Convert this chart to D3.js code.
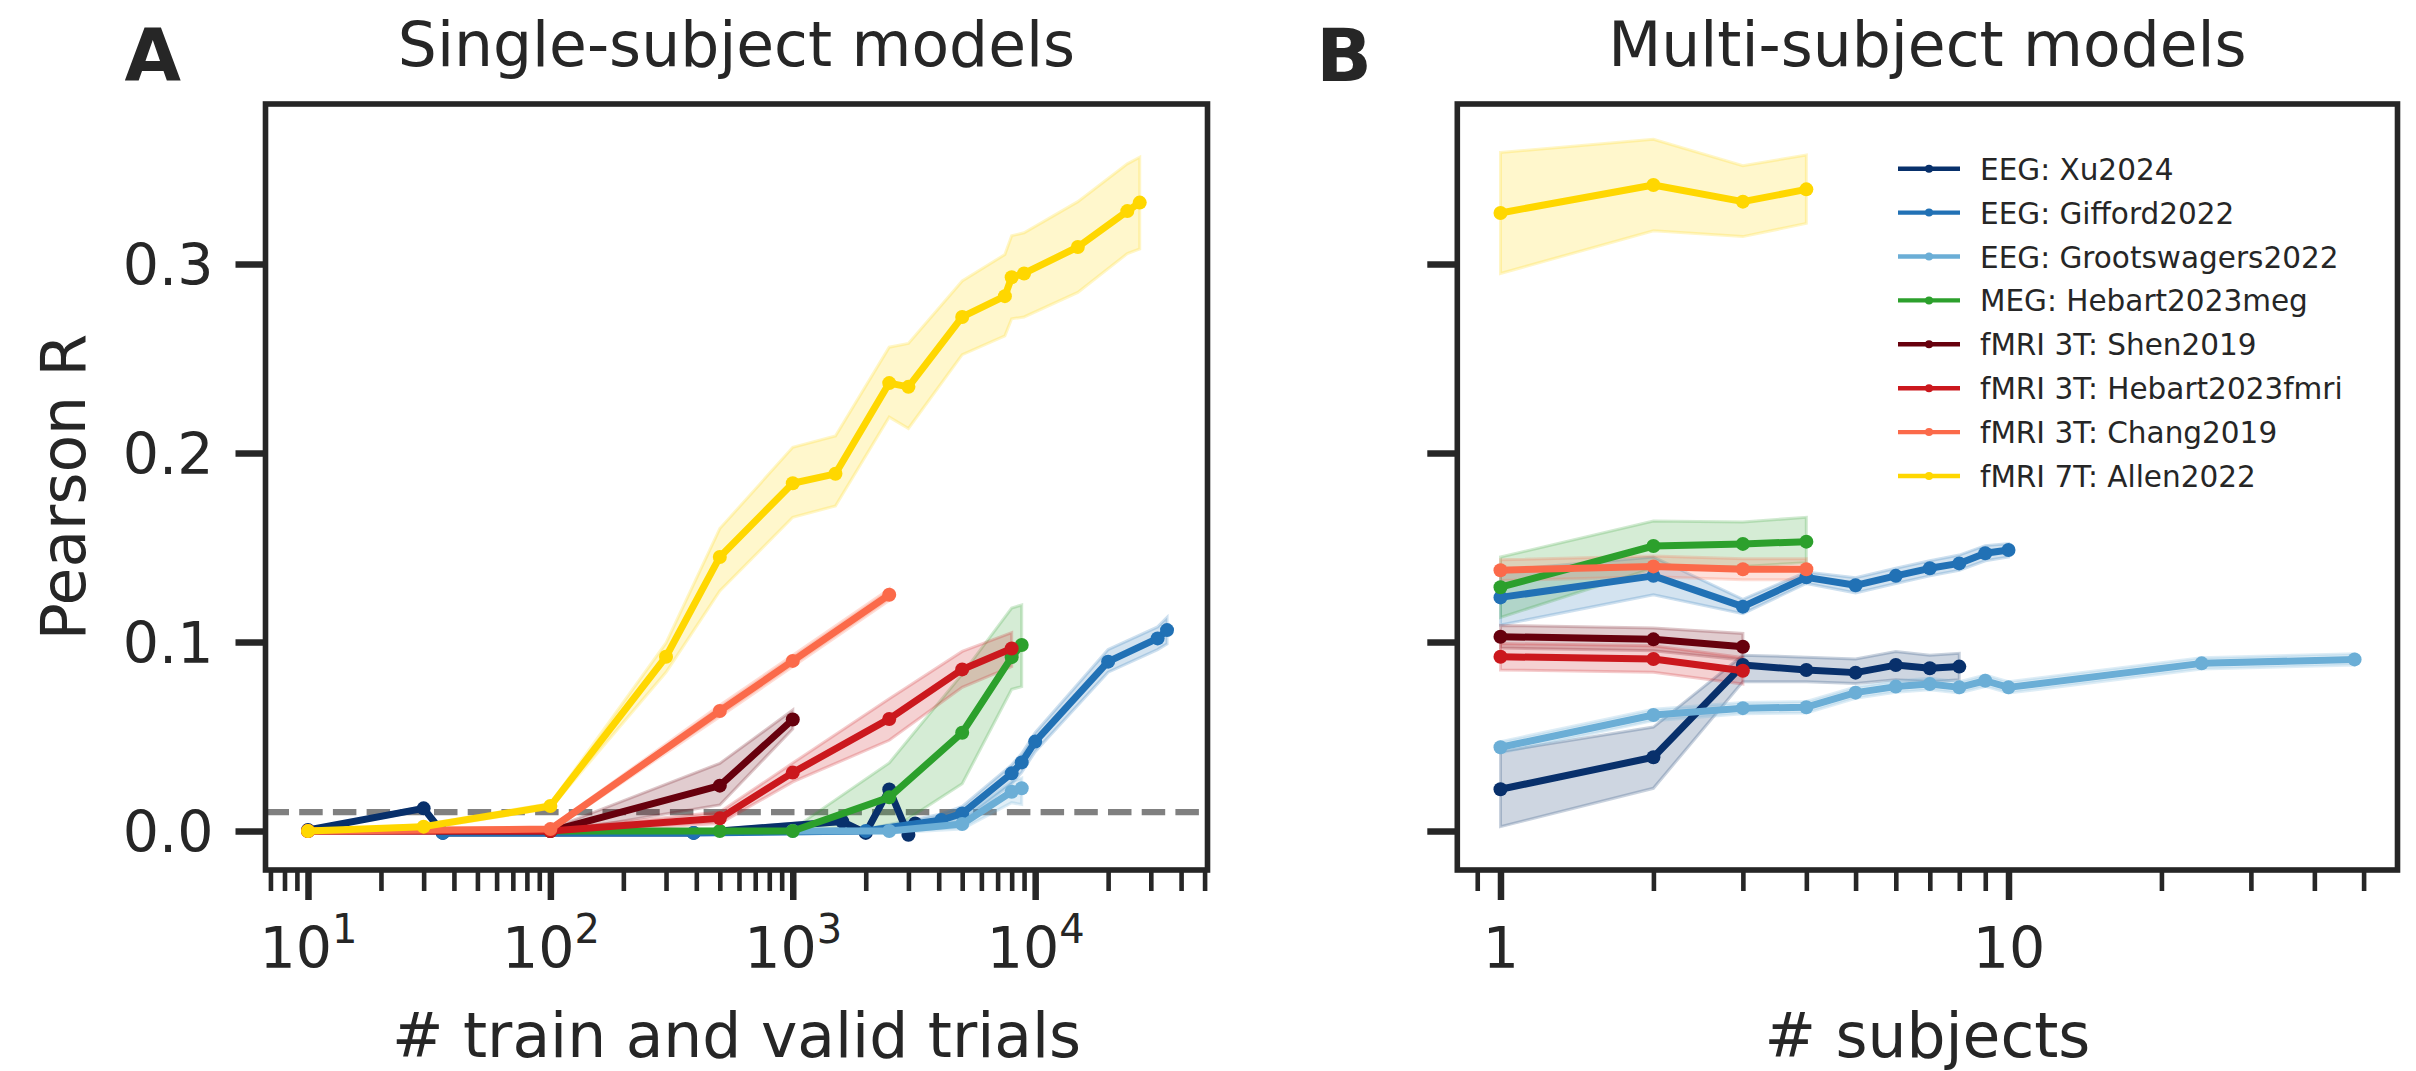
<!DOCTYPE html>
<html>
<head>
<meta charset="utf-8">
<script src="https://cdn.jsdelivr.net/npm/d3@7"></script>
<style>
  body { margin: 0; background: #fff; }
  svg text { font-family: 'DejaVu Sans', sans-serif; fill: #262626; }
</style>
</head>
<body>
<script>
// ---- data ----

var seriesNames = ['EEG: Xu2024', 'EEG: Gifford2022', 'EEG: Grootswagers2022', 'MEG: Hebart2023meg',
  'fMRI 3T: Shen2019', 'fMRI 3T: Hebart2023fmri', 'fMRI 3T: Chang2019', 'fMRI 7T: Allen2022'];

// panel A: # train and valid trials -> pearson r (mean, band low, band high)
var xuTrials = [10, 30, 36, 390, 1600, 2000, 2500, 3000, 3200];
var xuR = [0.0005, 0.012, -0.001, -0.001, 0.005, -0.001, 0.022, -0.002, 0.004];
var xuLo = [0.0, 0.011, -0.002, -0.002, 0.004, -0.002, 0.020, -0.003, 0.003];
var xuHi = [0.001, 0.013, 0.0, 0.0, 0.006, 0.0, 0.024, -0.001, 0.005];

var giffordTrials = [36, 390, 2000, 4100, 5000, 8000, 8800, 10000, 20000, 32000, 35000];
var giffordR = [-0.001, -0.001, 0.0, 0.0058, 0.0093, 0.0305, 0.0363, 0.0473, 0.0896, 0.1019, 0.1063];
var giffordLo = [-0.002, -0.002, -0.001, 0.003, 0.005, 0.025, 0.031, 0.042, 0.084, 0.096, 0.099];
var giffordHi = [0.0, 0.0, 0.001, 0.009, 0.013, 0.035, 0.041, 0.052, 0.096, 0.108, 0.113];

var grootTrials = [1000, 2500, 5000, 8000, 8800];
var grootR = [0.0, 0.0, 0.0037, 0.0208, 0.0226];
var grootLo = [-0.001, -0.001, 0.001, 0.015, 0.014];
var grootHi = [0.001, 0.001, 0.007, 0.026, 0.028];

var megTrials = [100, 500, 1000, 2500, 5000, 8000, 8800];
var megR = [0.0, 0.0, 0.0, 0.0178, 0.052, 0.092, 0.0984];
var megLo = [0.0, -0.001, -0.001, 0.0, 0.025, 0.075, 0.0764];
var megHi = [0.0, 0.001, 0.001, 0.036, 0.083, 0.118, 0.1196];

var shenTrials = [10, 100, 500, 1000];
var shenR = [0.0, 0.0, 0.024, 0.059];
var shenLo = [0.0, -0.001, 0.0138, 0.054];
var shenHi = [0.0, 0.001, 0.0358, 0.064];

var hebartTrials = [10, 100, 500, 1000, 2500, 5000, 8000];
var hebartR = [0.0, 0.0, 0.0067, 0.0309, 0.0593, 0.0855, 0.0966];
var hebartLo = [0.0, -0.001, 0.004, 0.026, 0.048, 0.076, 0.087];
var hebartHi = [0.0, 0.001, 0.010, 0.036, 0.070, 0.095, 0.105];

var changTrials = [10, 100, 500, 1000, 2500];
var changR = [0.0, 0.001, 0.0635, 0.090, 0.125];
var changLo = [-0.001, 0.0, 0.0605, 0.087, 0.122];
var changHi = [0.001, 0.002, 0.0665, 0.093, 0.128];

var allenTrials = [10, 30, 100, 300, 500, 1000, 1500, 2500, 3000, 5000, 7500, 8000, 9000, 15000, 24000, 27000];
var allenR = [0.0, 0.0023, 0.0132, 0.0922, 0.145, 0.184, 0.189, 0.237, 0.235, 0.272, 0.283, 0.293, 0.295, 0.309, 0.328, 0.3325];
var allenLo = [0.0, 0.001, 0.012, 0.084, 0.127, 0.166, 0.172, 0.219, 0.213, 0.252, 0.262, 0.271, 0.272, 0.285, 0.3055, 0.308];
var allenHi = [0.0, 0.0035, 0.0145, 0.0995, 0.160, 0.203, 0.209, 0.256, 0.258, 0.291, 0.305, 0.315, 0.3165, 0.333, 0.353, 0.3565];

// panel B: # subjects -> pearson r
var xuSubj = [1, 2, 3, 4, 5, 6, 7, 8];
var xuSubjR = [0.0221, 0.039, 0.0878, 0.0852, 0.0838, 0.0878, 0.0861, 0.087];
var xuSubjLo = [0.0023, 0.0226, 0.079, 0.079, 0.078, 0.080, 0.079, 0.080];
var xuSubjHi = [0.042, 0.055, 0.093, 0.092, 0.091, 0.095, 0.093, 0.094];

var giffordSubj = [1, 2, 3, 4, 5, 6, 7, 8, 9, 10];
var giffordSubjR = [0.1236, 0.135, 0.1187, 0.1342, 0.130, 0.135, 0.139, 0.1416, 0.147, 0.1487];
var giffordSubjLo = [0.109, 0.125, 0.115, 0.131, 0.126, 0.131, 0.135, 0.138, 0.143, 0.145];
var giffordSubjHi = [0.138, 0.145, 0.1226, 0.137, 0.134, 0.139, 0.143, 0.146, 0.151, 0.152];

var grootSubj = [1, 2, 3, 4, 5, 6, 7, 8, 9, 10, 24, 48];
var grootSubjR = [0.0443, 0.0614, 0.065, 0.0655, 0.0732, 0.0764, 0.0778, 0.076, 0.0795, 0.076, 0.0887, 0.0908];
var grootSubjLo = [0.0413, 0.0584, 0.062, 0.0625, 0.0702, 0.0734, 0.0748, 0.073, 0.0765, 0.073, 0.0857, 0.0878];
var grootSubjHi = [0.0473, 0.0644, 0.068, 0.0685, 0.0762, 0.0794, 0.0808, 0.079, 0.0825, 0.079, 0.0917, 0.0938];

var megSubj = [1, 2, 3, 4];
var megSubjR = [0.129, 0.1508, 0.1519, 0.1531];
var megSubjLo = [0.113, 0.139, 0.140, 0.142];
var megSubjHi = [0.145, 0.164, 0.1635, 0.166];

var shenSubj = [1, 2, 3];
var shenSubjR = [0.1028, 0.1014, 0.0975];
var shenSubjLo = [0.0968, 0.0954, 0.0905];
var shenSubjHi = [0.1088, 0.1074, 0.1045];

var hebartSubj = [1, 2, 3];
var hebartSubjR = [0.0922, 0.091, 0.0848];
var hebartSubjLo = [0.0852, 0.084, 0.0778];
var hebartSubjHi = [0.0992, 0.098, 0.0918];

var changSubj = [1, 2, 3, 4];
var changSubjR = [0.138, 0.140, 0.1385, 0.1385];
var changSubjLo = [0.1325, 0.1345, 0.133, 0.133];
var changSubjHi = [0.1435, 0.1455, 0.144, 0.144];

var allenSubj = [1, 2, 3, 4];
var allenSubjR = [0.327, 0.3418, 0.333, 0.3395];
var allenSubjLo = [0.295, 0.3176, 0.3145, 0.3215];
var allenSubjHi = [0.359, 0.366, 0.352, 0.3577];

// ticks
var yTicks = [0.0, 0.1, 0.2, 0.3];
var trialMajor = [10, 100, 1000, 10000];
var trialMinor = [7, 8, 9, 20, 30, 40, 50, 60, 70, 80, 90, 200, 300, 400, 500, 600, 700, 800, 900,
  2000, 3000, 4000, 5000, 6000, 7000, 8000, 9000, 20000, 30000, 40000, 50000];
var subjMajor = [1, 10];
var subjMinor = [0.9, 2, 3, 4, 5, 6, 7, 8, 9, 20, 30, 40, 50];
var chanceLevel = 0.01;

// ---- styles ----
var colors = ['#08306b', '#2171b5', '#6baed6', '#2ca02c', '#67000d', '#cb181d', '#fb6a4a', '#ffd700'];
var ink = '#262626';

var pack = function(xs, ys, lo, hi) {
  return xs.map(function(x, i) { return { x: x, y: ys[i], lo: lo[i], hi: hi[i] }; });
};

var single = [
  pack(xuTrials, xuR, xuLo, xuHi),
  pack(giffordTrials, giffordR, giffordLo, giffordHi),
  pack(grootTrials, grootR, grootLo, grootHi),
  pack(megTrials, megR, megLo, megHi),
  pack(shenTrials, shenR, shenLo, shenHi),
  pack(hebartTrials, hebartR, hebartLo, hebartHi),
  pack(changTrials, changR, changLo, changHi),
  pack(allenTrials, allenR, allenLo, allenHi)
];
var multi = [
  pack(xuSubj, xuSubjR, xuSubjLo, xuSubjHi),
  pack(giffordSubj, giffordSubjR, giffordSubjLo, giffordSubjHi),
  pack(grootSubj, grootSubjR, grootSubjLo, grootSubjHi),
  pack(megSubj, megSubjR, megSubjLo, megSubjHi),
  pack(shenSubj, shenSubjR, shenSubjLo, shenSubjHi),
  pack(hebartSubj, hebartSubjR, hebartSubjLo, hebartSubjHi),
  pack(changSubj, changSubjR, changSubjLo, changSubjHi),
  pack(allenSubj, allenSubjR, allenSubjLo, allenSubjHi)
];

var svg = d3.select('body').append('svg').attr('width', 2416).attr('height', 1071);

// note: "top" is taken by window.top, so plotTop / plotBottom
var plotTop = 104, plotBottom = 870;
var y = d3.scaleLinear().domain([-0.02063, 0.38466]).range([plotBottom, plotTop]);
var xA = d3.scaleLog().domain([Math.pow(10, 0.8247), Math.pow(10, 4.711)]).range([265.5, 1207.5]);
var xB = d3.scaleLog().domain([Math.pow(10, -0.085), Math.pow(10, 1.7657)]).range([1457.3, 2397.5]);

var drawPanel = function(id, x, data, opts) {
  var x0 = x.range()[0], x1 = x.range()[1];
  var g = svg.append('g');

  g.append('clipPath').attr('id', 'clip' + id)
    .append('rect').attr('x', x0).attr('y', plotTop).attr('width', x1 - x0).attr('height', plotBottom - plotTop);

  var plot = g.append('g').attr('clip-path', 'url(#clip' + id + ')');

  if (opts.chance) {
    plot.append('line')
      .attr('x1', x0).attr('x2', x1)
      .attr('y1', y(chanceLevel)).attr('y2', y(chanceLevel))
      .attr('stroke', '#808080').attr('stroke-width', 6.4)
      .attr('stroke-dasharray', '23.5,10.2');
  }

  var area = d3.area().x(function(d) { return x(d.x); })
    .y0(function(d) { return y(d.lo); }).y1(function(d) { return y(d.hi); });
  var line = d3.line().x(function(d) { return x(d.x); }).y(function(d) { return y(d.y); });

  data.forEach(function(s, i) {
    plot.append('path').datum(s).attr('d', area)
      .attr('fill', colors[i]).attr('fill-opacity', 0.2)
      .attr('stroke', colors[i]).attr('stroke-opacity', 0.22).attr('stroke-width', 3);
  });
  data.forEach(function(s, i) {
    plot.append('path').datum(s).attr('d', line)
      .attr('fill', 'none').attr('stroke', colors[i]).attr('stroke-width', 7)
      .attr('stroke-linejoin', 'round');
    plot.selectAll(null).data(s).enter().append('circle')
      .attr('cx', function(d) { return x(d.x); })
      .attr('cy', function(d) { return y(d.y); })
      .attr('r', 7).attr('fill', colors[i]);
  });

  // x ticks, major then minor
  var gx = g.append('g').attr('transform', 'translate(0,' + plotBottom + ')')
    .call(d3.axisBottom(x).tickValues(opts.major).tickSize(30).tickPadding(28)
      .tickFormat(opts.fmt));
  var gm = g.append('g').attr('transform', 'translate(0,' + plotBottom + ')')
    .call(d3.axisBottom(x).tickValues(opts.minor).tickSize(21).tickFormat(''));
  if (opts.sup) {
    gx.selectAll('.tick text').append('tspan')
      .attr('dy', -25).attr('font-size', 40)
      .text(function(d) { return Math.round(Math.log10(d)); });
  }

  var gy = g.append('g').attr('transform', 'translate(' + x0 + ',0)')
    .call(d3.axisLeft(y).tickValues(yTicks).tickSize(30).tickPadding(22)
      .tickFormat(opts.yLabels ? d3.format('.1f') : ''));
  gy.selectAll('.tick text').attr('dy', '0.365em');

  g.selectAll('.domain').remove();
  g.selectAll('.tick line').attr('stroke', ink).attr('stroke-width', 6.5);
  gm.selectAll('.tick line').attr('stroke-width', 4.6);
  g.selectAll('.tick text').attr('font-size', 57).attr('fill', ink)
    .style('font-family', "'DejaVu Sans', sans-serif");

  // frame
  g.append('rect').attr('x', x0).attr('y', plotTop).attr('width', x1 - x0).attr('height', plotBottom - plotTop)
    .attr('fill', 'none').attr('stroke', ink).attr('stroke-width', 5.6);

  var cx = (x0 + x1) / 2;
  g.append('text').attr('x', cx).attr('y', 66).attr('text-anchor', 'middle')
    .attr('font-size', 61.5).text(opts.title);
  g.append('text').attr('x', cx).attr('y', 1057).attr('text-anchor', 'middle')
    .attr('font-size', 61.5).text(opts.xLabel);
  g.append('text').attr('x', x0 - 141).attr('y', 81)
    .attr('font-size', 73).attr('font-weight', 'bold').text(opts.letter);

  return g;
};

drawPanel('A', xA, single, {
  major: trialMajor, minor: trialMinor, fmt: function() { return '10'; }, sup: true,
  yLabels: true, chance: true, title: 'Single-subject models', xLabel: '# train and valid trials', letter: 'A'
});
var panelB = drawPanel('B', xB, multi, {
  major: subjMajor, minor: subjMinor, fmt: d3.format('d'), sup: false,
  yLabels: false, chance: false, title: 'Multi-subject models', xLabel: '# subjects', letter: 'B'
});

svg.append('text')
  .attr('transform', 'translate(85,' + ((plotTop + plotBottom) / 2) + ') rotate(-90)')
  .attr('text-anchor', 'middle').attr('font-size', 61.5).text('Pearson R');

// legend
var legend = panelB.append('g');
seriesNames.forEach(function(name, i) {
  var ly = 168.7 + i * 43.9;
  legend.append('line').attr('x1', 1898).attr('x2', 1960).attr('y1', ly).attr('y2', ly)
    .attr('stroke', colors[i]).attr('stroke-width', 4.4);
  legend.append('circle').attr('cx', 1929).attr('cy', ly).attr('r', 4).attr('fill', colors[i]);
  legend.append('text').attr('x', 1980).attr('y', ly + 11).attr('font-size', 29.5).text(name);
});
</script>
</body>
</html>
